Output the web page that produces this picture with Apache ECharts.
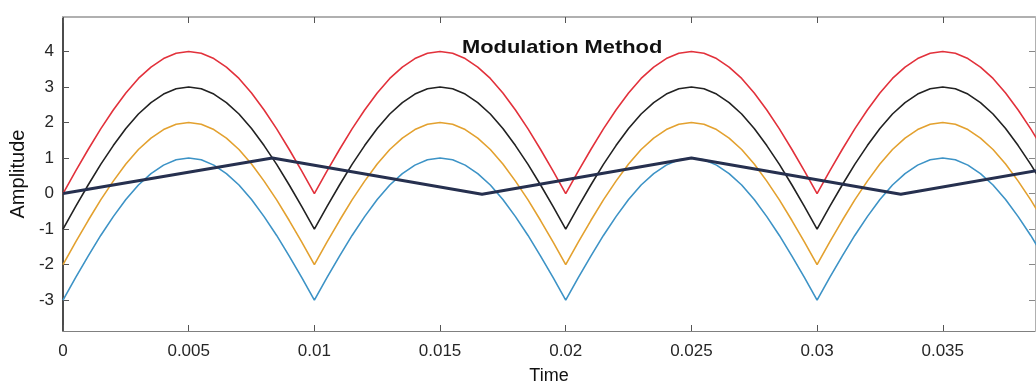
<!DOCTYPE html>
<html>
<head>
<meta charset="utf-8">
<script src="https://cdn.jsdelivr.net/npm/echarts@6/dist/echarts.min.js"></script>
<style>
html,body{margin:0;padding:0;background:#fff;}
#chart{width:1036px;height:390px;}
</style>
</head>
<body>
<div id="chart"></div>
<script>
// Sample times (s)
const time = [
  0.0000,0.0005,0.0010,0.0015,0.0020,0.0025,0.0030,0.0035,0.0040,0.0045,
  0.0050,0.0055,0.0060,0.0065,0.0070,0.0075,0.0080,0.0085,0.0090,0.0095,
  0.0100,0.0105,0.0110,0.0115,0.0120,0.0125,0.0130,0.0135,0.0140,0.0145,
  0.0150,0.0155,0.0160,0.0165,0.0170,0.0175,0.0180,0.0185,0.0190,0.0195,
  0.0200,0.0205,0.0210,0.0215,0.0220,0.0225,0.0230,0.0235,0.0240,0.0245,
  0.0250,0.0255,0.0260,0.0265,0.0270,0.0275,0.0280,0.0285,0.0290,0.0295,
  0.0300,0.0305,0.0310,0.0315,0.0320,0.0325,0.0330,0.0335,0.0340,0.0345,
  0.0350,0.0355,0.0360,0.0365,0.0370,0.0375,0.0380,0.0385,0.0390
];
const redCarrier = [
  0.00,0.63,1.24,1.82,2.35,2.83,3.24,3.56,3.80,3.95,4.00,3.95,3.80,3.56,3.24,2.83,2.35,1.82,1.24,0.63,
  0.00,0.63,1.24,1.82,2.35,2.83,3.24,3.56,3.80,3.95,4.00,3.95,3.80,3.56,3.24,2.83,2.35,1.82,1.24,0.63,
  0.00,0.63,1.24,1.82,2.35,2.83,3.24,3.56,3.80,3.95,4.00,3.95,3.80,3.56,3.24,2.83,2.35,1.82,1.24,0.63,
  0.00,0.63,1.24,1.82,2.35,2.83,3.24,3.56,3.80,3.95,4.00,3.95,3.80,3.56,3.24,2.83,2.35,1.82,1.24
];
const blackCarrier = [
  -1.00,-0.37,0.24,0.82,1.35,1.83,2.24,2.56,2.80,2.95,3.00,2.95,2.80,2.56,2.24,1.83,1.35,0.82,0.24,-0.37,
  -1.00,-0.37,0.24,0.82,1.35,1.83,2.24,2.56,2.80,2.95,3.00,2.95,2.80,2.56,2.24,1.83,1.35,0.82,0.24,-0.37,
  -1.00,-0.37,0.24,0.82,1.35,1.83,2.24,2.56,2.80,2.95,3.00,2.95,2.80,2.56,2.24,1.83,1.35,0.82,0.24,-0.37,
  -1.00,-0.37,0.24,0.82,1.35,1.83,2.24,2.56,2.80,2.95,3.00,2.95,2.80,2.56,2.24,1.83,1.35,0.82,0.24
];
const orangeCarrier = [
  -2.00,-1.37,-0.76,-0.18,0.35,0.83,1.24,1.56,1.80,1.95,2.00,1.95,1.80,1.56,1.24,0.83,0.35,-0.18,-0.76,-1.37,
  -2.00,-1.37,-0.76,-0.18,0.35,0.83,1.24,1.56,1.80,1.95,2.00,1.95,1.80,1.56,1.24,0.83,0.35,-0.18,-0.76,-1.37,
  -2.00,-1.37,-0.76,-0.18,0.35,0.83,1.24,1.56,1.80,1.95,2.00,1.95,1.80,1.56,1.24,0.83,0.35,-0.18,-0.76,-1.37,
  -2.00,-1.37,-0.76,-0.18,0.35,0.83,1.24,1.56,1.80,1.95,2.00,1.95,1.80,1.56,1.24,0.83,0.35,-0.18,-0.76
];
const blueCarrier = [
  -3.00,-2.37,-1.76,-1.18,-0.65,-0.17,0.24,0.56,0.80,0.95,1.00,0.95,0.80,0.56,0.24,-0.17,-0.65,-1.18,-1.76,-2.37,
  -3.00,-2.37,-1.76,-1.18,-0.65,-0.17,0.24,0.56,0.80,0.95,1.00,0.95,0.80,0.56,0.24,-0.17,-0.65,-1.18,-1.76,-2.37,
  -3.00,-2.37,-1.76,-1.18,-0.65,-0.17,0.24,0.56,0.80,0.95,1.00,0.95,0.80,0.56,0.24,-0.17,-0.65,-1.18,-1.76,-2.37,
  -3.00,-2.37,-1.76,-1.18,-0.65,-0.17,0.24,0.56,0.80,0.95,1.00,0.95,0.80,0.56,0.24,-0.17,-0.65,-1.18,-1.76
];
// Modulating (triangle) wave vertices
const triTime = [0, 0.00833, 0.01667, 0.025, 0.03333, 0.04];
const triValue = [0, 1, -0.02, 1, -0.02, 0.8];

const xTicks = [0, 0.005, 0.01, 0.015, 0.02, 0.025, 0.03, 0.035];
const xTickLabels = ['0', '0.005', '0.01', '0.015', '0.02', '0.025', '0.03', '0.035'];
const yTicks = [-3, -2, -1, 0, 1, 2, 3, 4];
const yTickLabels = ['-3', '-2', '-1', '0', '1', '2', '3', '4'];
const titleText = 'Modulation Method';

const X_MIN = 0, X_MAX = 0.03867, Y_MIN = -3.87, Y_MAX = 4.97;

function pairs(xs, ys) { return ys.map((v, i) => [xs[i], v]); }

const FONT = 'Liberation Sans, Arial, sans-serif';
const chart = echarts.init(document.getElementById('chart'), null, {renderer: 'canvas'});

function lineSeries(name, data, color, width) {
  return {
    name, type: 'line', data, showSymbol: false, symbol: 'none',
    lineStyle: {color, width}, itemStyle: {color},
    animation: false, clip: true, z: 2
  };
}

chart.setOption({
  animation: false,
  backgroundColor: '#ffffff',
  graphic: [{
    type: 'text', left: 462, top: 38, scaleX: 1.15, z: 10,
    style: {text: titleText, font: 'bold 19px ' + FONT, fill: '#111'}
  }],
  grid: {left: 61, right: 1, top: 17, bottom: 57, containLabel: false},
  xAxis: [{
    type: 'value', min: X_MIN, max: X_MAX, position: 'bottom',
    name: 'Time', nameLocation: 'middle', nameGap: 36,
    nameTextStyle: {fontFamily: FONT, fontSize: 18, color: '#111'},
    axisLine: {show: true, onZero: false, lineStyle: {color: '#808080', width: 1}},
    axisTick: {show: true, inside: true, length: 6, customValues: xTicks, lineStyle: {color: '#555'}},
    axisLabel: {
      customValues: xTicks, margin: 12,
      formatter: v => xTickLabels[xTicks.findIndex(t => Math.abs(t - v) < 1e-9)],
      fontFamily: FONT, fontSize: 17, color: '#262626'
    },
    splitLine: {show: false}
  }, {
    type: 'value', min: X_MIN, max: X_MAX, position: 'top',
    axisLine: {show: true, onZero: false, lineStyle: {color: '#b0b0b0', width: 2}},
    axisTick: {show: true, inside: true, length: 6, customValues: xTicks, lineStyle: {color: '#555'}},
    axisLabel: {show: false}, splitLine: {show: false}
  }],
  yAxis: [{
    type: 'value', min: Y_MIN, max: Y_MAX, position: 'left',
    name: 'Amplitude', nameLocation: 'middle', nameGap: 28, nameRotate: 90,
    nameTextStyle: {fontFamily: FONT, fontSize: 20, color: '#111'},
    axisLine: {show: true, onZero: false, lineStyle: {color: '#111', width: 1.5}},
    axisTick: {show: true, inside: true, length: 6, customValues: yTicks, lineStyle: {color: '#555'}},
    axisLabel: {
      customValues: yTicks, margin: 9,
      formatter: v => yTickLabels[yTicks.findIndex(t => Math.abs(t - v) < 1e-9)],
      fontFamily: FONT, fontSize: 17, color: '#262626'
    },
    splitLine: {show: false}
  }, {
    type: 'value', min: Y_MIN, max: Y_MAX, position: 'right',
    axisLine: {show: true, onZero: false, lineStyle: {color: '#b0b0b0', width: 1}},
    axisTick: {show: true, inside: true, length: 6, customValues: yTicks, lineStyle: {color: '#888'}},
    axisLabel: {show: false}, splitLine: {show: false}
  }],
  series: [
    lineSeries('Carrier 1', pairs(time, redCarrier), '#e2313b', 1.6),
    lineSeries('Carrier 2', pairs(time, blackCarrier), '#222222', 1.6),
    lineSeries('Carrier 3', pairs(time, orangeCarrier), '#e3a12f', 1.6),
    lineSeries('Carrier 4', pairs(time, blueCarrier), '#3d93c6', 1.6),
    Object.assign(lineSeries('Modulating', pairs(triTime, triValue), '#26304f', 3), {z: 3})
  ]
});
</script>
</body>
</html>
